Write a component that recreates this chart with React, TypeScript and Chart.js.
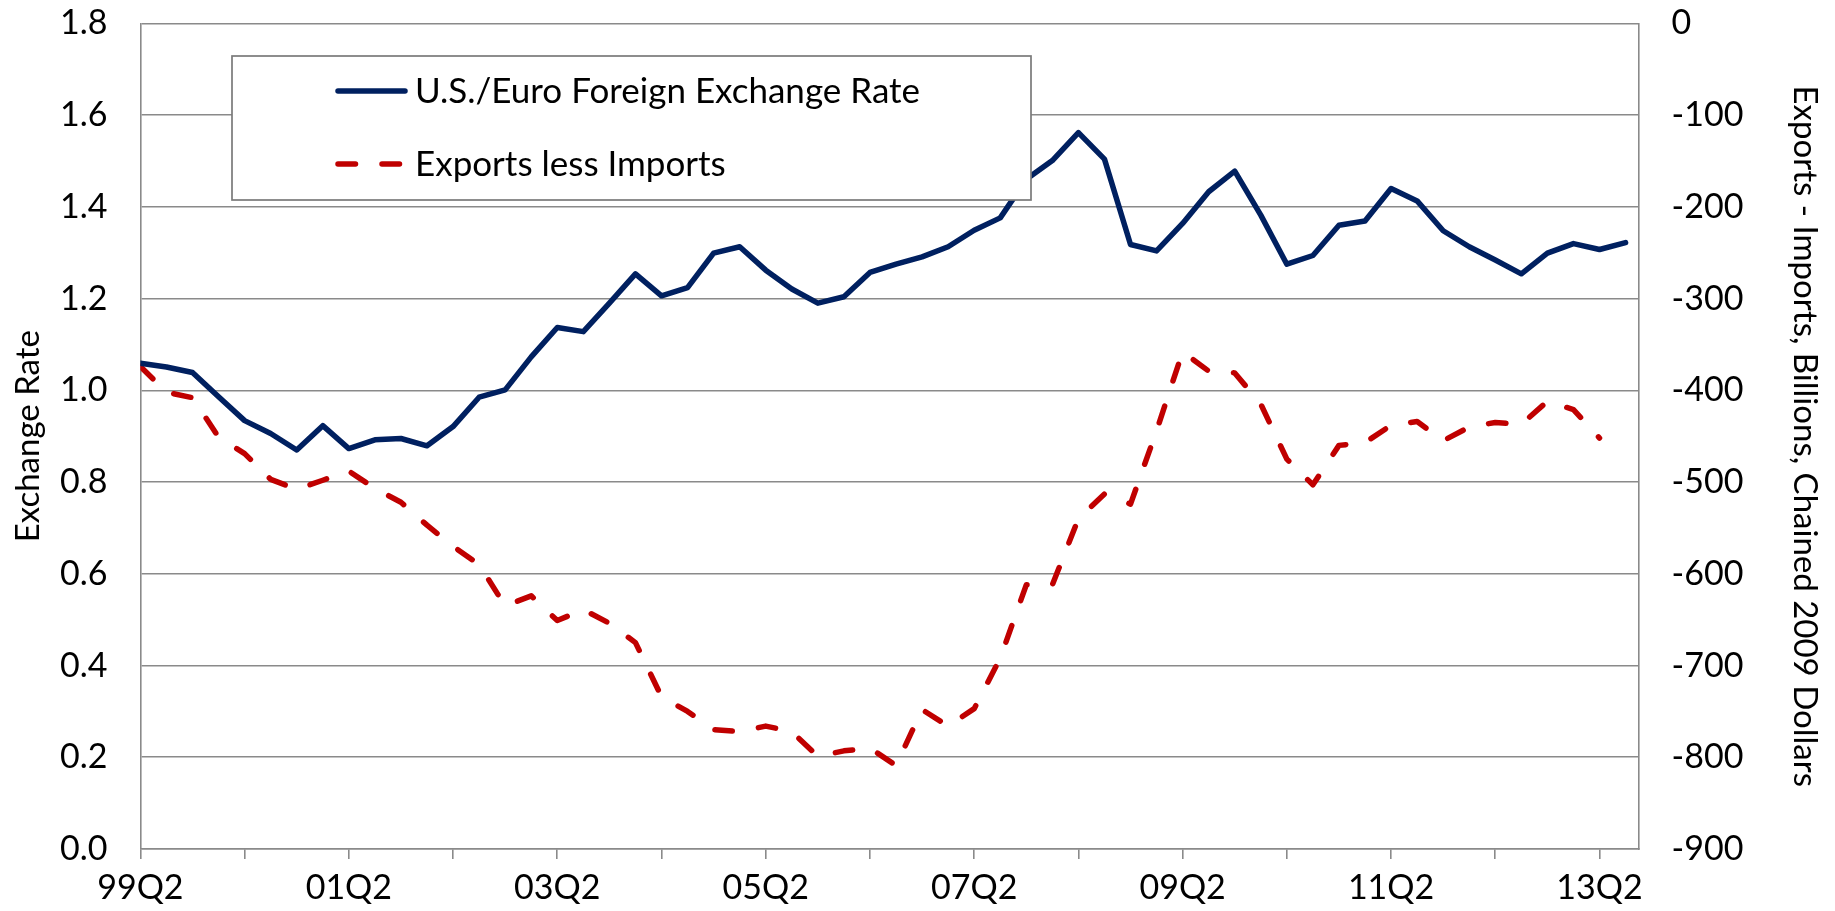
import React, { useEffect, useRef } from 'react';
import { Chart, registerables } from 'chart.js';

Chart.register(...registerables);

const quarters = [
  '99Q2', '99Q3', '99Q4',
  '00Q1', '00Q2', '00Q3', '00Q4',
  '01Q1', '01Q2', '01Q3', '01Q4',
  '02Q1', '02Q2', '02Q3', '02Q4',
  '03Q1', '03Q2', '03Q3', '03Q4',
  '04Q1', '04Q2', '04Q3', '04Q4',
  '05Q1', '05Q2', '05Q3', '05Q4',
  '06Q1', '06Q2', '06Q3', '06Q4',
  '07Q1', '07Q2', '07Q3', '07Q4',
  '08Q1', '08Q2', '08Q3', '08Q4',
  '09Q1', '09Q2', '09Q3', '09Q4',
  '10Q1', '10Q2', '10Q3', '10Q4',
  '11Q1', '11Q2', '11Q3', '11Q4',
  '12Q1', '12Q2', '12Q3', '12Q4',
  '13Q1', '13Q2', '13Q3',
];

const exchangeRate = [
  1.059, 1.051, 1.039,
  0.986, 0.934, 0.906, 0.870,
  0.923, 0.873, 0.892, 0.895,
  0.879, 0.921, 0.985, 1.001,
  1.073, 1.137, 1.128, 1.190,
  1.254, 1.206, 1.224, 1.299,
  1.313, 1.262, 1.221, 1.190,
  1.204, 1.257, 1.275, 1.291,
  1.313, 1.349, 1.376, 1.460,
  1.501, 1.562, 1.504, 1.318,
  1.304, 1.364, 1.433, 1.478,
  1.382, 1.275, 1.294, 1.360,
  1.369, 1.440, 1.413, 1.348,
  1.313, 1.284, 1.254, 1.299,
  1.320, 1.307, 1.322,
];

const netExports = [
  -374, -402, -408,
  -451, -469, -497, -508,
  -498, -488, -507, -522,
  -547, -570, -590, -635,
  -624, -651, -639, -654,
  -675, -734, -750, -770,
  -772, -766, -772, -799,
  -793, -790, -809, -748,
  -766, -747, -692, -612,
  -612, -540, -513, -524,
  -444, -358, -379, -381,
  -415, -475, -503, -460,
  -457, -438, -434, -455,
  -440, -435, -437, -412,
  -421, -452,
];

const seriesLabels = ['U.S./Euro Foreign Exchange Rate', 'Exports less Imports'];
const xTickIndices = [0, 4, 8, 12, 16, 20, 24, 28, 32, 36, 40, 44, 48, 52, 56];
const xLabelEvery = 8;
const leftTitle = 'Exchange Rate';
const rightTitle = 'Exports - Imports, Billions, Chained 2009 Dollars';

const FONT = 'Lato';
const GRID = '#8a8a8a';

const legendPlugin = {
  id: 'boxLegend',
  afterDatasetsDraw(chart: any) {
    const ctx = chart.ctx as CanvasRenderingContext2D;
    const bx = 232, by = 56, bw = 799, bh = 144;
    ctx.save();
    ctx.fillStyle = '#ffffff';
    ctx.fillRect(bx, by, bw, bh);
    ctx.strokeStyle = '#7a7a7a';
    ctx.lineWidth = 1.7;
    ctx.strokeRect(bx, by, bw, bh);
    chart.data.datasets.forEach((ds: any, i: number) => {
      const y = 91 + i * 73;
      ctx.beginPath();
      ctx.setLineDash(ds.borderDash || []);
      ctx.lineCap = 'round';
      ctx.strokeStyle = ds.borderColor;
      ctx.lineWidth = ds.borderWidth;
      ctx.moveTo(338, y);
      ctx.lineTo(405, y);
      ctx.stroke();
      ctx.setLineDash([]);
      ctx.fillStyle = '#000000';
      ctx.font = `35px ${FONT}`;
      ctx.textBaseline = 'alphabetic';
      ctx.textAlign = 'left';
      ctx.fillText(ds.label, 415, y + 12);
    });
    ctx.restore();
  },
};

const fixVertical = (width: number) => (s: any) => {
  s.width = width;
  s.paddingTop = 0;
  s.paddingBottom = 0;
};

export default function App() {
  const canvasRef = useRef<HTMLCanvasElement | null>(null);

  useEffect(() => {
    const canvas = canvasRef.current;
    if (!canvas) return;
    const chart = new Chart(canvas, {
      type: 'line',
      data: {
        datasets: [
          {
            label: seriesLabels[0],
            data: exchangeRate.map((v, i) => ({ x: i, y: v })),
            borderColor: '#002060',
            borderWidth: 5.5,
            pointRadius: 0,
            tension: 0,
            borderJoinStyle: 'round',
            borderCapStyle: 'round',
            yAxisID: 'y',
          },
          {
            label: seriesLabels[1],
            data: netExports.map((v, i) => ({ x: i, y: v })),
            borderColor: '#C00000',
            borderWidth: 5.5,
            borderDash: [17.5, 26.5],
            borderCapStyle: 'round',
            borderJoinStyle: 'round',
            pointRadius: 0,
            tension: 0,
            yAxisID: 'y1',
          },
        ],
      },
      options: {
        responsive: false,
        animation: false,
        devicePixelRatio: 1,
        layout: { padding: { top: 23.4, left: 0, right: 0, bottom: 0 } },
        plugins: {
          legend: { display: false },
          tooltip: { enabled: false },
        },
        scales: {
          x: {
            type: 'linear',
            min: 0,
            max: 57.5,
            afterBuildTicks: (s: any) => {
              s.ticks = xTickIndices.map((v) => ({ value: v }));
            },
            afterFit: (s: any) => {
              s.height = 62;
            },
            ticks: {
              autoSkip: false,
              maxRotation: 0,
              minRotation: 0,
              padding: 9,
              color: '#000000',
              font: { family: FONT, size: 34 },
              callback: (value: any) =>
                Number(value) % xLabelEvery === 0 ? quarters[Number(value)] : '',
            },
            grid: {
              drawOnChartArea: false,
              drawTicks: true,
              tickLength: 10,
              color: GRID,
              lineWidth: 1.6,
            },
            border: { display: true, color: GRID, width: 1.6 },
          },
          y: {
            type: 'linear',
            position: 'left',
            min: 0,
            max: 1.8,
            afterFit: fixVertical(140.4),
            ticks: {
              stepSize: 0.2,
              padding: 33,
              color: '#000000',
              font: { family: FONT, size: 34 },
              callback: (v: any) => Number(v).toFixed(1),
            },
            grid: { color: GRID, lineWidth: 1.6, drawTicks: false },
            border: { display: true, color: GRID, width: 1.6 },
            title: {
              display: true,
              text: leftTitle,
              color: '#000000',
              font: { family: FONT, size: 33 },
              padding: { top: 9, bottom: 0 },
            },
          },
          y1: {
            type: 'linear',
            position: 'right',
            min: -900,
            max: 0,
            afterFit: fixVertical(196.4),
            ticks: {
              stepSize: 100,
              padding: 33,
              color: '#000000',
              font: { family: FONT, size: 34 },
            },
            grid: { drawOnChartArea: false, drawTicks: false },
            border: { display: true, color: GRID, width: 1.6 },
            title: {
              display: true,
              text: rightTitle,
              color: '#000000',
              font: { family: FONT, size: 33 },
              padding: { top: 11, bottom: 0 },
            },
          },
        },
      } as any,
      plugins: [legendPlugin],
    });
    return () => chart.destroy();
  }, []);

  return (
    <div style={{ position: 'fixed', left: 0, top: 0, width: 1835, height: 911, background: '#ffffff' }}>
      <canvas ref={canvasRef} width={1835} height={911} style={{ width: 1835, height: 911 }} />
    </div>
  );
}
